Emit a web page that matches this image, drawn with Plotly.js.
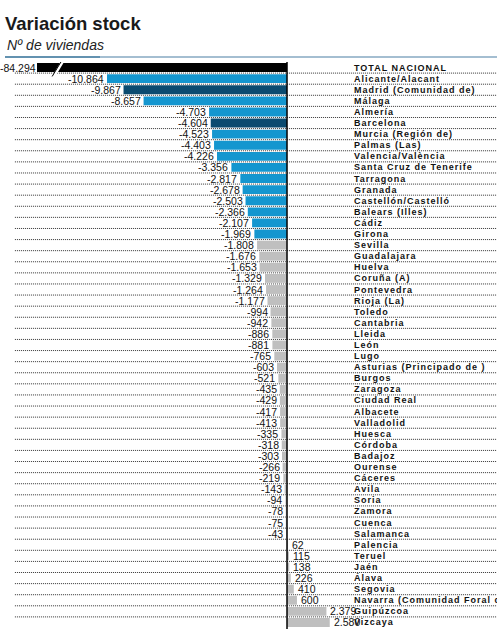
<!DOCTYPE html>
<html>
<head>
<meta charset="utf-8">
<script src="https://cdn.plot.ly/plotly-3.0.1.min.js"></script>
<style>
  html, body { margin: 0; padding: 0; background: #fff; }
  #chart { width: 497px; height: 629px; }
</style>
</head>
<body>
<div id="chart"></div>
<script>
// provincias ordenadas por variación del stock de viviendas
var provincias = [
  'TOTAL NACIONAL', 'Alicante/Alacant', 'Madrid (Comunidad de)', 'Málaga', 'Almería',
  'Barcelona', 'Murcia (Región de)', 'Palmas (Las)', 'Valencia/València', 'Santa Cruz de Tenerife',
  'Tarragona', 'Granada', 'Castellón/Castelló', 'Balears (Illes)', 'Cádiz',
  'Girona', 'Sevilla', 'Guadalajara', 'Huelva', 'Coruña (A)',
  'Pontevedra', 'Rioja (La)', 'Toledo', 'Cantabria', 'Lleida',
  'León', 'Lugo', 'Asturias (Principado de )', 'Burgos', 'Zaragoza',
  'Ciudad Real', 'Albacete', 'Valladolid', 'Huesca', 'Córdoba',
  'Badajoz', 'Ourense', 'Cáceres', 'Avila', 'Soria',
  'Zamora', 'Cuenca', 'Salamanca', 'Palencia', 'Teruel',
  'Jaén', 'Álava', 'Segovia', 'Navarra (Comunidad Foral de)', 'Guipúzcoa',
  'Vizcaya'
];
var variacion = [
  -84294, -10864, -9867, -8657, -4703,
  -4604, -4523, -4403, -4226, -3356,
  -2817, -2678, -2503, -2366, -2107,
  -1969, -1808, -1676, -1653, -1329,
  -1264, -1177, -994, -942, -886,
  -881, -765, -603, -521, -435,
  -429, -417, -413, -335, -318,
  -303, -266, -219, -143, -94,
  -78, -75, -43, 62, 115,
  138, 226, 410, 600, 2379,
  2580
];
var destacadasOscuro = ['Madrid (Comunidad de)', 'Barcelona'];
var numDestacadas = 16; // total + 15 provincias en azul

var negro = '#000000', azulClaro = '#1496cf', azulOscuro = '#0b4b70', gris = '#bfbfbf';
var xRange = [-15090, 12675];

function fmt(v) {
  var s = String(Math.abs(v)).replace(/\B(?=(\d{3})+(?!\d))/g, '.');
  return (v < 0 ? '-' : '') + s;
}

var colores = provincias.map(function (p, i) {
  if (i === 0) return negro;
  if (destacadasOscuro.indexOf(p) >= 0) return azulOscuro;
  if (i < numDestacadas) return azulClaro;
  return gris;
});

var trace = {
  type: 'bar',
  orientation: 'h',
  y: provincias,
  x: variacion,
  width: 0.8,
  marker: { color: colores, line: { width: 0 } },
  hoverinfo: 'none'
};

var annotations = [];
provincias.forEach(function (p) {
  annotations.push({
    x: 0.684, xref: 'paper', y: p, yref: 'y',
    text: p, showarrow: false, xanchor: 'left', yanchor: 'middle', align: 'left',
    font: { family: 'Liberation Sans, Arial', size: 9, weight: 'bold', color: '#111' }
  });
});
var nCat = annotations.length;
variacion.forEach(function (v, i) {
  var neg = v < 0;
  var cortada = v < xRange[0];
  annotations.push({
    x: Math.max(v, xRange[0] + 1), xref: 'x', y: provincias[i], yref: 'y',
    text: fmt(v), showarrow: false,
    xanchor: neg ? 'right' : 'left', xshift: cortada ? 1 : (neg ? -1 : 2), yanchor: 'middle',
    font: { family: 'Liberation Sans, Arial', size: 10.5, color: '#111' }
  });
});
annotations.push({
  x: -0.0696, xref: 'paper', y: 1.030, yref: 'paper',
  text: 'Nº de viviendas', showarrow: false, xanchor: 'left', yanchor: 'middle',
  font: { family: 'Liberation Sans, Arial', size: 14, style: 'italic', color: '#222' }
});

var shapes = [];
// lineas punteadas entre filas
for (var i = 0; i < provincias.length - 1; i++) {
  shapes.push({
    type: 'line', xref: 'paper', yref: 'y',
    x0: -0.048, x1: 1, y0: i + 0.5, y1: i + 0.5,
    line: { color: '#333', width: 1, dash: '1px,1px' }, layer: 'below'
  });
}
// eje vertical
shapes.push({
  type: 'line', xref: 'x', yref: 'paper', x0: 0, x1: 0, y0: -0.01, y1: 1,
  line: { color: '#000', width: 1.5 }
});
// corte de la barra del total
shapes.push({
  type: 'line', xref: 'paper', yref: 'y', x0: 0.036, x1: 0.055, y0: 0.8, y1: -0.5,
  line: { color: '#fff', width: 3 }
});
shapes.push({
  type: 'line', xref: 'paper', yref: 'y', x0: 0.033, x1: 0.052, y0: 0.8, y1: -0.5,
  line: { color: '#000', width: 1 }
});
// línea bajo el título
shapes.push({
  type: 'line', xref: 'paper', yref: 'paper', x0: -0.0696, x1: 0.137, y0: 1.0088, y1: 1.0088,
  line: { color: '#2f6e96', width: 1.5 }
});
shapes.push({
  type: 'line', xref: 'paper', yref: 'paper', x0: 0.137, x1: 1, y0: 1.0088, y1: 1.0088,
  line: { color: '#86a9c2', width: 1.5 }
});

var layout = {
  width: 497,
  height: 629,
  margin: { l: 37, r: 0, t: 62, b: 1 },
  paper_bgcolor: '#fff',
  plot_bgcolor: '#fff',
  showlegend: false,
  title: {
    text: '<b>Variación stock</b>',
    x: 0.01, xref: 'container', xanchor: 'left',
    y: 0.973, yref: 'container', yanchor: 'top',
    font: { family: 'Liberation Sans, Arial', size: 18.5, color: '#1a1a1a' }
  },
  xaxis: {
    range: xRange, showgrid: false, zeroline: false,
    showticklabels: false, showline: false, fixedrange: true
  },
  yaxis: {
    type: 'category', categoryorder: 'array', categoryarray: provincias,
    range: [provincias.length - 0.5, -0.5],
    showgrid: false, zeroline: false, showticklabels: false, fixedrange: true
  },
  annotations: annotations,
  shapes: shapes
};

Plotly.newPlot('chart', [trace], layout, { displayModeBar: false, staticPlot: true }).then(function () {
  var nodes = document.querySelectorAll('#chart g.annotation');
  nodes.forEach(function (g) {
    var idx = +g.getAttribute('data-index');
    if (idx < nCat) {
      var t = g.querySelector('text');
      if (t) t.style.letterSpacing = '1px';
    }
  });
});
</script>
</body>
</html>
